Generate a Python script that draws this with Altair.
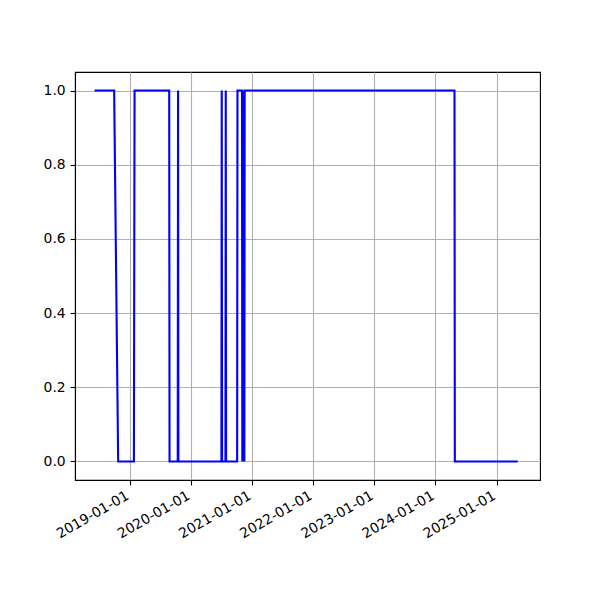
import altair as alt
import pandas as pd

dates = [
    "2018-06-04", "2018-09-29", "2018-10-23", "2019-01-25", "2019-01-29",
    "2019-08-24", "2019-08-26", "2019-10-14", "2019-10-16", "2019-10-18",
    "2020-07-01", "2020-07-03", "2020-07-05", "2020-07-25", "2020-07-27",
    "2020-07-29", "2020-10-03", "2020-10-05",
    "2020-11-01", "2020-11-03", "2020-11-05", "2020-11-07", "2020-11-09",
    "2020-11-11", "2020-11-13", "2020-11-15", "2020-11-17", "2024-04-24",
    "2024-04-26", "2025-05-07",
]
values = [
    1, 1, 0, 0, 1,
    1, 0, 0, 1, 0,
    0, 1, 0, 0, 1,
    0, 0, 1,
    1, 0, 1, 0, 1,
    0, 1, 0, 1, 1,
    0, 0,
]
x_ticks = ["2019-01-01", "2020-01-01", "2021-01-01", "2022-01-01",
           "2023-01-01", "2024-01-01", "2025-01-01"]
y_ticks = [0.0, 0.2, 0.4, 0.6, 0.8, 1.0]

df = pd.DataFrame({"date": pd.to_datetime(dates), "value": values})

x_dom = [alt.DateTime(year=2018, month=2, date=7), alt.DateTime(year=2025, month=9, date=17)]

chart = alt.Chart(df).mark_line(color="#0000ff", strokeWidth=2.1, clip=True).encode(
    x=alt.X("date:T",
            scale=alt.Scale(domain=x_dom, nice=False),
            axis=alt.Axis(values=[alt.DateTime(year=int(t[:4]), month=1, date=1) for t in x_ticks],
                          format="%Y-%m-%d", labelAngle=-30, labelAlign="right",
                          labelBaseline="top", labelOffset=-6, labelPadding=3.5, title=None)),
    y=alt.Y("value:Q",
            scale=alt.Scale(domain=[-0.05, 1.05], nice=False, zero=False),
            axis=alt.Axis(values=y_ticks, format=".1f", title=None)),
).properties(
    width=465, height=408,
    autosize=alt.AutoSizeParams(type="none"),
    padding={"left": 67, "top": 64, "right": 50, "bottom": 110},
).configure_view(
    stroke="black", strokeWidth=1.1
).configure_axis(
    grid=True, gridColor="#b0b0b0", gridWidth=1.1,
    domain=True, domainColor="black", domainWidth=1.1,
    ticks=True, tickColor="black", tickWidth=1.1, tickSize=4.9,
    labelFont="DejaVu Sans", labelFontSize=13.9, labelColor="black",
    labelPadding=4.9, labelFlush=False, labelOverlap=False,
)

chart.save("out.html", embed_options={"renderer": "svg", "actions": False})
